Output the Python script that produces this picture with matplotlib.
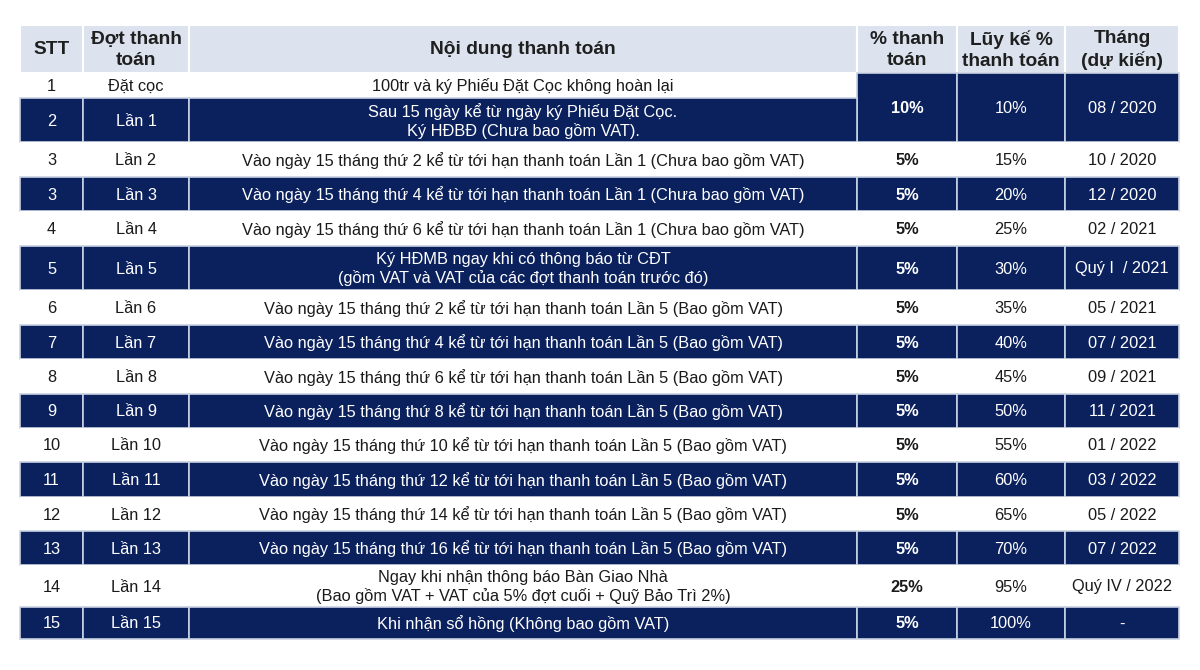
import matplotlib.pyplot as plt
from matplotlib.patches import Rectangle

plt.rcParams['font.family'] = ['Liberation Sans', 'DejaVu Sans']

# Table content
headers = ["STT", "Đợt thanh\ntoán", "Nội dung thanh toán", "% thanh\ntoán",
           "Lũy kế %\nthanh toán", "Tháng\n(dự kiến)"]
stt = ["1", "2", "3", "3", "4", "5", "6", "7", "8", "9", "10", "11", "12", "13", "14", "15"]
dot = ["Đặt cọc", "Lần 1", "Lần 2", "Lần 3", "Lần 4", "Lần 5", "Lần 6", "Lần 7",
       "Lần 8", "Lần 9", "Lần 10", "Lần 11", "Lần 12", "Lần 13", "Lần 14", "Lần 15"]
noi_dung = [
    "100tr và ký Phiếu Đặt Cọc không hoàn lại",
    "Sau 15 ngày kể từ ngày ký Phiếu Đặt Cọc.\nKý HĐBĐ (Chưa bao gồm VAT).",
    "Vào ngày 15 tháng thứ 2 kể từ tới hạn thanh toán Lần 1 (Chưa bao gồm VAT)",
    "Vào ngày 15 tháng thứ 4 kể từ tới hạn thanh toán Lần 1 (Chưa bao gồm VAT)",
    "Vào ngày 15 tháng thứ 6 kể từ tới hạn thanh toán Lần 1 (Chưa bao gồm VAT)",
    "Ký HĐMB ngay khi có thông báo từ CĐT\n(gồm VAT và VAT của các đợt thanh toán trước đó)",
    "Vào ngày 15 tháng thứ 2 kể từ tới hạn thanh toán Lần 5 (Bao gồm VAT)",
    "Vào ngày 15 tháng thứ 4 kể từ tới hạn thanh toán Lần 5 (Bao gồm VAT)",
    "Vào ngày 15 tháng thứ 6 kể từ tới hạn thanh toán Lần 5 (Bao gồm VAT)",
    "Vào ngày 15 tháng thứ 8 kể từ tới hạn thanh toán Lần 5 (Bao gồm VAT)",
    "Vào ngày 15 tháng thứ 10 kể từ tới hạn thanh toán Lần 5 (Bao gồm VAT)",
    "Vào ngày 15 tháng thứ 12 kể từ tới hạn thanh toán Lần 5 (Bao gồm VAT)",
    "Vào ngày 15 tháng thứ 14 kể từ tới hạn thanh toán Lần 5 (Bao gồm VAT)",
    "Vào ngày 15 tháng thứ 16 kể từ tới hạn thanh toán Lần 5 (Bao gồm VAT)",
    "Ngay khi nhận thông báo Bàn Giao Nhà\n(Bao gồm VAT + VAT của 5% đợt cuối + Quỹ Bảo Trì 2%)",
    "Khi nhận sổ hồng (Không bao gồm VAT)",
]
# first two rows share one cell for the last three columns
pct = ["10%", None, "5%", "5%", "5%", "5%", "5%", "5%", "5%", "5%", "5%", "5%", "5%", "5%", "25%", "5%"]
luy_ke = ["10%", None, "15%", "20%", "25%", "30%", "35%", "40%", "45%", "50%", "55%", "60%",
          "65%", "70%", "95%", "100%"]
thang = ["08 / 2020", None, "10 / 2020", "12 / 2020", "02 / 2021", "Quý I  / 2021", "05 / 2021",
         "07 / 2021", "09 / 2021", "11 / 2021", "01 / 2022", "03 / 2022", "05 / 2022",
         "07 / 2022", "Quý IV / 2022", "-"]

# layout in pixels
col_edges = [20, 83, 189, 857, 957, 1065, 1179]
row_edges = [73, 98, 142, 177, 211, 246, 290, 325, 359, 394, 428, 462, 497, 531, 565, 607, 639]
header_top = 25

NAVY = "#0b215e"
HEAD_BG = "#dce3ee"
LINE = "#c9d2e3"

fig = plt.figure(figsize=(12, 6.7), dpi=100)
ax = fig.add_axes([0, 0, 1, 1])
ax.set_xlim(0, 1200)
ax.set_ylim(670, 0)
ax.axis("off")


def cell(c0, c1, r0, r1, bg, text, color, weight="normal", size=11.8):
    x0, x1 = col_edges[c0], col_edges[c1]
    if bg is not None:
        ax.add_patch(Rectangle((x0, r0), x1 - x0, r1 - r0, facecolor=bg,
                               edgecolor=LINE if bg != "white" else "none", lw=1.2))
    if text:
        ax.text((x0 + x1) / 2, (r0 + r1) / 2 + 1, text, ha="center", va="center",
                color=color, fontsize=size, fontweight=weight, linespacing=1.25)


# header
for j, h in enumerate(headers):
    ax.add_patch(Rectangle((col_edges[j], header_top), col_edges[j + 1] - col_edges[j],
                           row_edges[0] - header_top, facecolor=HEAD_BG, edgecolor="white", lw=1.5))
    ax.text((col_edges[j] + col_edges[j + 1]) / 2, (header_top + row_edges[0]) / 2 + 1, h,
            ha="center", va="center", fontsize=13.8, fontweight="bold", color="#1f1f1f",
            linespacing=1.3)

for i in range(len(stt)):
    r0, r1 = row_edges[i], row_edges[i + 1]
    dark = i % 2 == 1
    bg = NAVY if dark else "white"
    fg = "white" if dark else "#1a1a1a"
    cell(0, 1, r0, r1, bg, stt[i], fg)
    cell(1, 2, r0, r1, bg, dot[i], fg)
    cell(2, 3, r0, r1, bg, noi_dung[i], fg)
    if pct[i] is None:
        continue
    if i == 0:
        # merged over rows 1 and 2
        r1 = row_edges[2]
        bg, fg = NAVY, "white"
    cell(3, 4, r0, r1, bg, pct[i], fg, weight="bold")
    cell(4, 5, r0, r1, bg, luy_ke[i], fg)
    cell(5, 6, r0, r1, bg, thang[i], fg)

fig.savefig("out.png", dpi=100, facecolor="white")
